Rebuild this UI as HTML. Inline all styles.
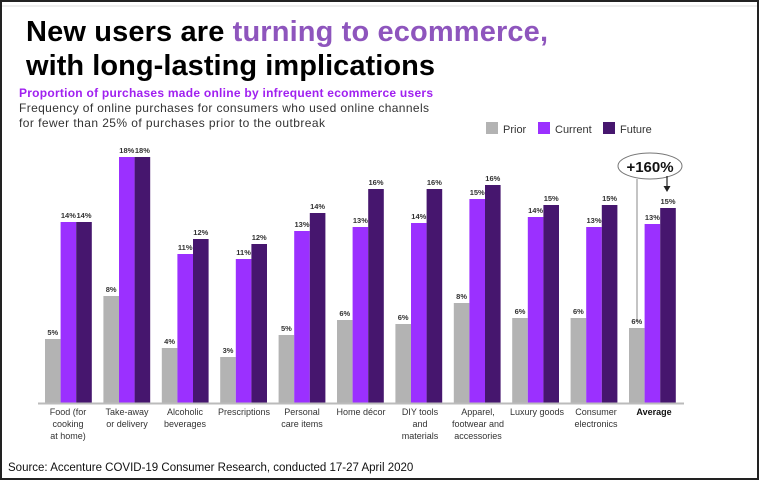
<!DOCTYPE html>
<html><head><meta charset="utf-8"><style>
body{margin:0;background:#fff;}
</style></head><body>
<svg width="760" height="485" viewBox="0 0 760 485" xmlns="http://www.w3.org/2000/svg" font-family="Liberation Sans, Arial, sans-serif">
<rect x="1" y="1" width="757" height="478" fill="#fff" stroke="#222" stroke-width="2"/>
<line x1="2" y1="6" x2="757" y2="6" stroke="#ddd" stroke-width="1"/>
<text x="26" y="41" font-size="29" font-weight="bold" fill="#000" textLength="522">New users are <tspan fill="#8e55bd">turning to ecommerce,</tspan></text>
<text x="26" y="75" font-size="29" font-weight="bold" fill="#000" textLength="409">with long-lasting implications</text>
<text x="19" y="97" font-size="12" font-weight="bold" fill="#a020f0" textLength="414">Proportion of purchases made online by infrequent ecommerce users</text>
<text x="19" y="112" font-size="12" fill="#333" textLength="410">Frequency of online purchases for consumers who used online channels</text>
<text x="19" y="127" font-size="12" fill="#333" textLength="306">for fewer than 25% of purchases prior to the outbreak</text>
<rect x="486" y="122" width="12" height="12" fill="#b3b3b3"/><text x="503" y="133" font-size="11" fill="#333">Prior</text>
<rect x="538" y="122" width="12" height="12" fill="#9b30ff"/><text x="555" y="133" font-size="11" fill="#333">Current</text>
<rect x="603" y="122" width="12" height="12" fill="#46166e"/><text x="620" y="133" font-size="11" fill="#333">Future</text>
<g id="bars" font-size="7.5" font-weight="bold" fill="#333" text-anchor="middle">
</g>
<line x1="38" y1="403.5" x2="684" y2="403.5" stroke="#bbb" stroke-width="2"/>
<ellipse cx="650" cy="166" rx="32" ry="13" fill="#fff" stroke="#777" stroke-width="1"/>
<text x="650" y="172" font-size="15" font-weight="bold" text-anchor="middle" fill="#111">+160%</text>
<line x1="637" y1="179" x2="637" y2="322" stroke="#888" stroke-width="1"/>
<line x1="667" y1="176" x2="667" y2="188" stroke="#222" stroke-width="1.2"/>
<polygon points="663.5,186 670.5,186 667,192" fill="#222"/>
<g font-size="9" fill="#333" text-anchor="middle">
<text x="68" y="415">Food (for</text><text x="68" y="427">cooking</text><text x="68" y="439">at home)</text>
<text x="127" y="415">Take-away</text><text x="127" y="427">or delivery</text>
<text x="185" y="415">Alcoholic</text><text x="185" y="427">beverages</text>
<text x="244" y="415">Prescriptions</text>
<text x="302" y="415">Personal</text><text x="302" y="427">care items</text>
<text x="361" y="415">Home décor</text>
<text x="420" y="415">DIY tools</text><text x="420" y="427">and</text><text x="420" y="439">materials</text>
<text x="478" y="415">Apparel,</text><text x="478" y="427">footwear and</text><text x="478" y="439">accessories</text>
<text x="537" y="415">Luxury  goods</text>
<text x="596" y="415">Consumer</text><text x="596" y="427">electronics</text>
<text x="654" y="415" font-weight="bold" fill="#111">Average</text>
</g>
<text x="8" y="471" font-size="11.5" fill="#111">Source: Accenture COVID-19 Consumer Research, conducted 17-27 April 2020</text>
</svg>
<script>
var d=[[5,339,14,222,14,222],[8,296,18,157,18,157],[4,348,11,254,12,239],[3,357,11,259,12,244],[5,335,13,231,14,213],[6,320,13,227,16,189],[6,324,14,223,16,189],[8,303,15,199,16,185],[6,318,14,217,15,205],[6,318,13,227,15,205],[6,328,13,224,15,208]];
var cols=["#b3b3b3","#9b30ff","#46166e"],g=document.getElementById("bars"),s="";
d.forEach(function(r,i){var x0=45+i*58.4;for(var k=0;k<3;k++){var x=x0+k*15.6,t=r[k*2+1];s+='<rect x="'+x+'" y="'+t+'" width="15.6" height="'+(403-t)+'" fill="'+cols[k]+'"/>';s+='<text x="'+(x+7.8)+'" y="'+(t-4)+'">'+r[k*2]+'%</text>';}});
g.innerHTML=s;
</script>
</body></html>
